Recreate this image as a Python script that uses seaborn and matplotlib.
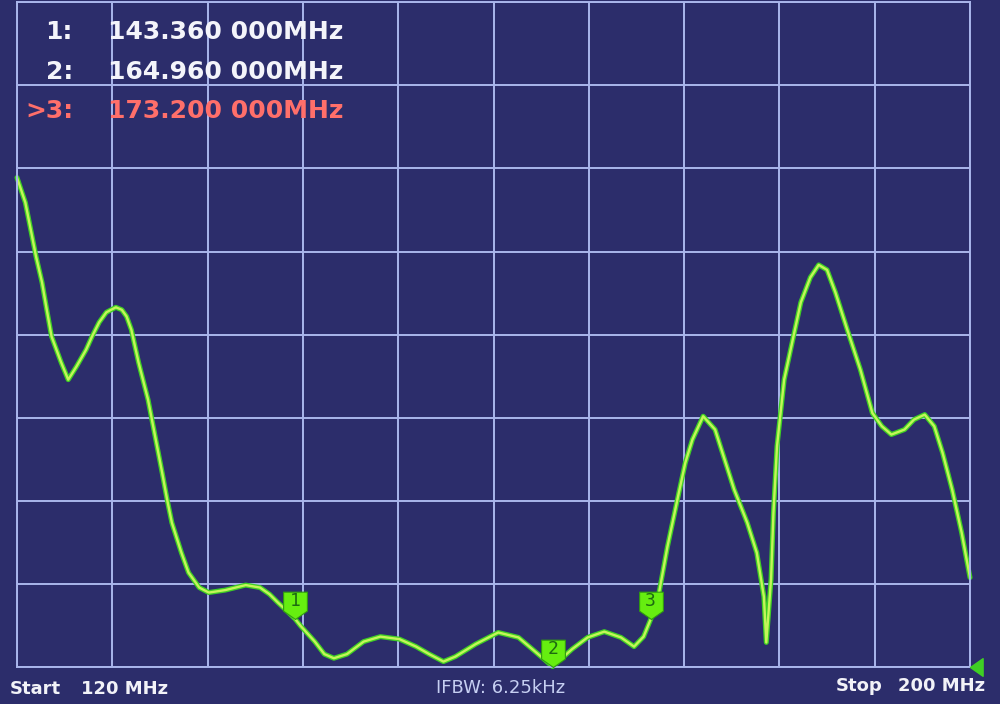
import numpy as np
import pandas as pd
import seaborn as sns
import matplotlib.pyplot as plt
from matplotlib.path import Path
import matplotlib.patheffects as pe

# Trace: frequency (MHz) and height in grid divisions (0..8)
freq = [120.0, 120.7, 121.2, 121.6, 122.1, 122.5, 122.9, 123.7, 124.3, 125.0,
        125.8, 126.3, 126.9, 127.5, 128.3, 128.8, 129.2, 129.6, 130.2, 131.0,
        131.5, 132.2, 132.6, 133.0, 133.8, 134.4, 135.3, 136.1, 137.5, 139.2,
        140.4, 141.2, 141.9, 142.5, 143.36, 143.8, 145.0, 145.8, 146.6, 147.7,
        149.1, 150.5, 152.1, 153.5, 154.6, 155.8, 156.8, 158.5, 160.4, 162.1,
        163.5, 164.96, 166.6, 167.9, 169.3, 170.7, 171.8, 172.6, 173.2, 173.9,
        174.6, 175.5, 176.1, 176.7, 177.6, 178.6, 179.4, 180.2, 181.3, 182.1,
        182.7, 182.9, 183.3, 183.5, 183.8, 184.4, 185.3, 185.8, 186.6, 187.3,
        188.0, 188.7, 189.7, 190.8, 191.8, 192.6, 193.4, 194.5, 195.3, 196.2,
        197.0, 197.7, 198.5, 199.3, 200.0]
level = [5.89, 5.59, 5.23, 4.94, 4.63, 4.30, 3.98, 3.67, 3.46, 3.62,
         3.82, 3.98, 4.15, 4.27, 4.33, 4.30, 4.22, 4.06, 3.67, 3.22,
         2.85, 2.33, 2.02, 1.74, 1.38, 1.14, 0.96, 0.90, 0.93, 0.99,
         0.96, 0.88, 0.78, 0.70, 0.58, 0.50, 0.31, 0.16, 0.11, 0.16,
         0.31, 0.37, 0.34, 0.25, 0.16, 0.07, 0.13, 0.28, 0.42, 0.36,
         0.19, 0.01, 0.22, 0.36, 0.43, 0.36, 0.25, 0.37, 0.58, 0.90,
         1.45, 2.06, 2.46, 2.74, 3.02, 2.86, 2.50, 2.14, 1.74, 1.38,
         0.85, 0.30, 1.06, 1.86, 2.66, 3.46, 4.06, 4.39, 4.69, 4.84,
         4.78, 4.51, 4.06, 3.58, 3.06, 2.90, 2.80, 2.86, 2.98, 3.04,
         2.90, 2.58, 2.14, 1.62, 1.08]

marker_ids = ['1', '2', '3']
marker_freq = [143.36, 164.96, 173.2]
marker_labels = ['1:', '2:', '>3:']
marker_texts = ['143.360 000MHz', '164.960 000MHz', '173.200 000MHz']

start_mhz = 120
stop_mhz = 200
ifbw = '6.25kHz'

bg = '#2c2d6b'
grid_c = '#aab6ec'
trace_c = '#c4f55a'
edge_c = '#3fcf24'
flag_c = '#66ee10'

sns.set_style('dark')
plt.rcParams['font.family'] = ['DejaVu Sans']

df = pd.DataFrame({'freq': freq, 'level': level})

fig = plt.figure(figsize=(10, 7.04), dpi=100, facecolor=bg)
ax = fig.add_axes([0.017, 0.052, 0.953, 0.945])
ax.set_facecolor(bg)

sns.lineplot(data=df, x='freq', y='level', ax=ax, color=trace_c, lw=1.7,
             estimator=None, sort=False, clip_on=False,
             path_effects=[pe.Stroke(linewidth=3.6, foreground=edge_c), pe.Normal()])

ax.set_xlim(start_mhz, stop_mhz)
ax.set_ylim(0, 8)
ax.set_xticks(np.arange(start_mhz, stop_mhz + 1, 8))
ax.set_yticks(np.arange(0, 9, 1))
ax.grid(True, color=grid_c, lw=1.4)
ax.tick_params(length=0, labelbottom=False, labelleft=False)
ax.set_xlabel('')
ax.set_ylabel('')
for s in ax.spines.values():
    s.set_visible(True)
    s.set_color(grid_c)
    s.set_linewidth(1.4)

# shield shaped marker flags, tip on the trace
flag = Path([(0, 0), (-1, 0.7), (-1, 2.3), (1, 2.3), (1, 0.7), (0, 0)],
            [Path.MOVETO, Path.LINETO, Path.LINETO, Path.LINETO, Path.LINETO, Path.CLOSEPOLY])
for mid, mf in zip(marker_ids, marker_freq):
    my = level[freq.index(mf)]
    ax.scatter([mf], [my], marker=flag, s=1550, color=flag_c, edgecolor='#2f9a10',
               lw=0.8, zorder=5, clip_on=False)
    ax.annotate(mid, (mf, my), xytext=(0, 13), textcoords='offset points',
                ha='center', va='center', fontsize=13, color='#1d6a10',
                family='DejaVu Sans Mono', zorder=6)

# reference level triangle at the right edge
tri = Path([(0, 0), (1, 0.7), (1, -0.7), (0, 0)],
           [Path.MOVETO, Path.LINETO, Path.LINETO, Path.CLOSEPOLY])
ax.scatter([stop_mhz], [0], marker=tri, s=330, color=edge_c, zorder=5, clip_on=False)

# marker readout
ys = [0.955, 0.898, 0.842]
for i, (lab, txt) in enumerate(zip(marker_labels, marker_texts)):
    c = '#ff6f6a' if lab.startswith('>') else '#f4f4fa'
    fig.text(0.073, ys[i], lab, ha='right', va='center', fontsize=18,
             fontweight='bold', color=c)
    fig.text(0.108, ys[i], txt, ha='left', va='center', fontsize=18,
             fontweight='bold', color=c)

# bottom line
fig.text(0.010, 0.021, 'Start', ha='left', va='center', fontsize=13,
         fontweight='bold', color='#f2f2f8')
fig.text(0.081, 0.021, f'{start_mhz} MHz', ha='left', va='center', fontsize=13,
         fontweight='bold', color='#f2f2f8')
fig.text(0.501, 0.023, f'IFBW: {ifbw}', ha='center', va='center', fontsize=13,
         color='#c6cff2')
fig.text(0.836, 0.025, 'Stop', ha='left', va='center', fontsize=13,
         fontweight='bold', color='#f2f2f8')
fig.text(0.985, 0.025, f'{stop_mhz} MHz', ha='right', va='center', fontsize=13,
         fontweight='bold', color='#f2f2f8')

fig.savefig('out.png', dpi=100, facecolor=bg)
